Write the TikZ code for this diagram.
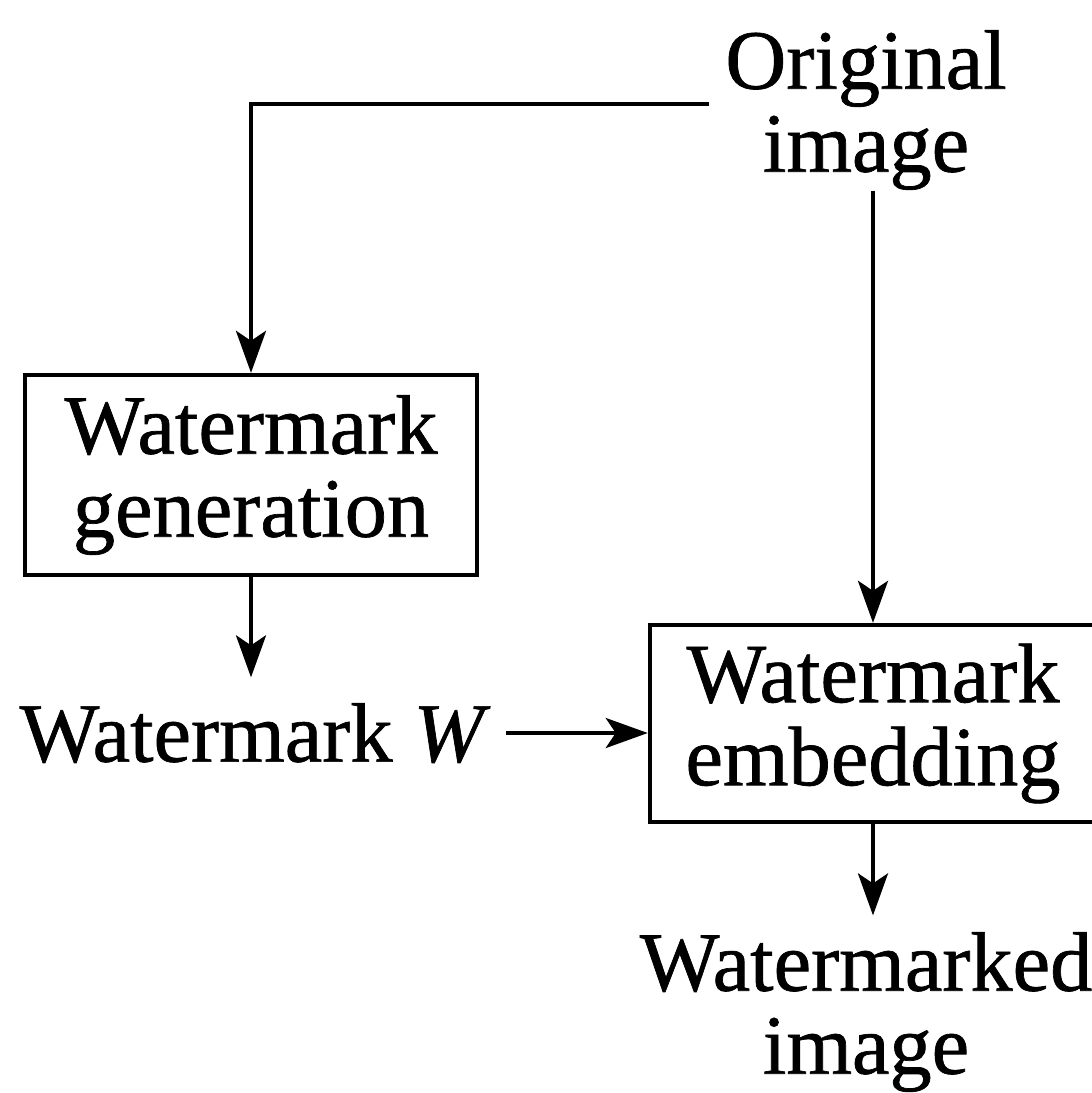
\documentclass[tikz,border=0pt]{standalone}
\usepackage{fontspec}
\setmainfont{Liberation Serif}[FakeBold=0.8]
\usetikzlibrary{arrows.meta}
\begin{document}
\begin{tikzpicture}[x=0.01cm,y=-0.01cm,
  every node/.style={font=\fontsize{24}{23.6}\selectfont, inner sep=0pt},
  caption/.style={align=center},
  block/.style={draw, line width=1.2pt, align=center},
  arr/.style={line width=1.1pt, -{Stealth[length=4.2mm,width=3mm,inset=1mm]}}]
  \useasboundingbox (0,0) rectangle (1092,1093);
  \clip (0,0) rectangle (1092,1093);

  % texts and blocks
  \node[caption] (orig) at (866,110) {Original\\image};
  \node[block, minimum width=4.52cm, minimum height=2cm] (gen) at (251,475) {Watermark\\generation};
  \node (wm) at (255,733) {Watermark \textit{W}};
  \node[block, minimum width=4.46cm, minimum height=1.97cm] (emb) at (873,723.5) {Watermark\\embedding};
  \node[caption] (out) at (866,1012) {Watermarked\\image};

  % connectors
  \draw[arr, shorten <=0.16cm] ([yshift=0.06cm]orig.west) -| (gen.north);
  \draw[arr] (emb.north |- orig.south) -- (emb.north);
  \draw[arr, shorten >=0.25cm] (gen.south) -- (gen.south |- wm.north);
  \draw[arr, shorten <=0.15cm] (wm.east) -- (wm.east -| emb.west);
  \draw[arr, shorten >=0.16cm] (emb.south) -- (emb.south |- out.north);
\end{tikzpicture}
\end{document}
